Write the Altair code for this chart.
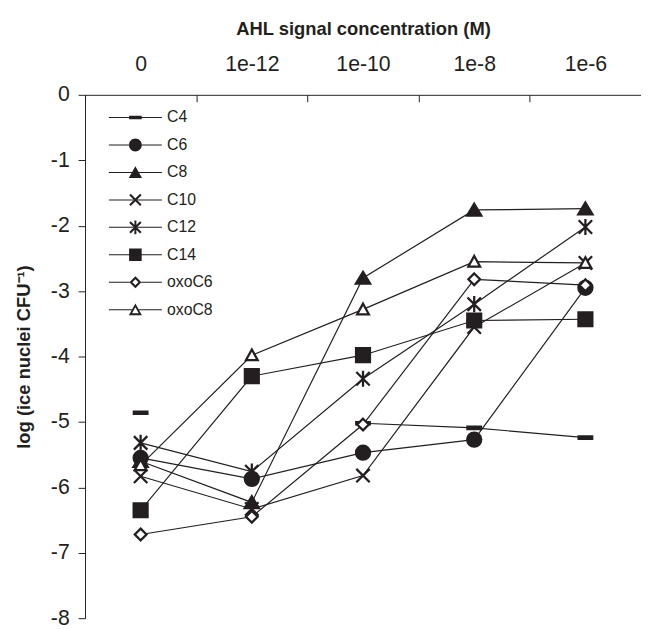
import altair as alt
import pandas as pd

# ---- data ----
concs = ["0", "1e-12", "1e-10", "1e-8", "1e-6"]
series = ["C4", "C6", "C8", "C10", "C12", "C14", "oxoC6", "oxoC8"]
C4 = [-4.86, None, -5.02, -5.09, -5.24]
C6 = [-5.55, -5.87, -5.47, -5.27, -2.95]
C8 = [-5.60, -6.23, -2.80, -1.76, -1.74]
C10 = [-5.83, -6.33, -5.82, -3.55, -2.57]
C12 = [-5.32, -5.76, -4.34, -3.20, -2.02]
C14 = [-6.35, -4.30, -3.98, -3.45, -3.43]
oxoC6 = [-6.72, -6.45, -5.04, -2.82, -2.91]
oxoC8 = [-5.66, -3.98, -3.28, -2.55, -2.57]
y_ticks = [-8, -7, -6, -5, -4, -3, -2, -1, 0]

values = [C4, C6, C8, C10, C12, C14, oxoC6, oxoC8]
rows = []
for s, vals in zip(series, values):
    for i, (c, v) in enumerate(zip(concs, vals)):
        rows.append({"series": s, "conc": c, "idx": i, "value": v})
df = pd.DataFrame(rows)

INK = "#231f20"
FONT = "Liberation Sans"

# chart marker paths (unit square -1..1), drawn with a 2.3px stroke
marker_paths = [
    "M-0.86,-0.15L0.86,-0.15L0.86,0.15L-0.86,0.15Z",                      # C4 dash
    "M-0.89,0A0.89,0.89,0,1,0,0.89,0A0.89,0.89,0,1,0,-0.89,0Z",           # C6 circle
    "M0,-0.78L0.9,0.72L-0.9,0.72Z",                                        # C8 triangle
    "M-0.85,-0.85L0.85,0.85M-0.85,0.85L0.85,-0.85",                        # C10 x
    "M-0.85,-0.85L0.85,0.85M-0.85,0.85L0.85,-0.85M0,-1.02L0,1.02",         # C12 asterisk
    "M-0.88,-0.88L0.88,-0.88L0.88,0.88L-0.88,0.88Z",                       # C14 square
    "M0,-0.74L0.74,0L0,0.74L-0.74,0Z",                                     # oxoC6 diamond
    "M0,-0.72L0.74,0.62L-0.74,0.62Z",                                      # oxoC8 triangle
]
marker_fills = [INK, INK, INK, INK, INK, INK, "white", "white"]


def seg(a):
    """thin filled line pieces on both sides of a legend marker (|x| >= a)"""
    t = 0.075
    return (f"M-4,-{t}L-{a},-{t}L-{a},{t}L-4,{t}Z"
            f"M{a},-{t}L4,-{t}L4,{t}L{a},{t}Z")


# legend symbols: line + solid marker (rings for the open markers)
xbars = ("M-0.93,-0.71L0.71,0.93L0.93,0.71L-0.71,-0.93Z"
         "M-0.71,0.93L0.93,-0.71L0.71,-0.93L-0.93,0.71Z")
legend_paths = [
    seg(0.9) + "M-0.95,-0.27L0.95,-0.27L0.95,0.27L-0.95,0.27Z",
    seg(0.95) + "M-0.97,0A0.97,0.97,0,1,0,0.97,0A0.97,0.97,0,1,0,-0.97,0Z",
    seg(0.52) + "M0,-0.95L1,0.85L-1,0.85Z",
    seg(0.22) + xbars,
    seg(0.22) + xbars + "M-0.15,-1.05L-0.15,1.05L0.15,1.05L0.15,-1.05Z",
    seg(0.93) + "M-0.95,-0.95L0.95,-0.95L0.95,0.95L-0.95,0.95Z",
    seg(0.88) + "M0,-0.9L0.9,0L0,0.9L-0.9,0Z"
    "M0,-0.46L-0.46,0L0,0.46L0.46,0Z",
    seg(0.5) + "M0,-0.95L0.98,0.82L-0.98,0.82Z"
    "M0,-0.36L-0.5,0.54L0.5,0.54Z",
]

W, H = 563, 530
step = W / len(concs)

y_enc = alt.Y(
    "value:Q",
    scale=alt.Scale(domain=[-8, 0], nice=False, zero=False),
    axis=alt.Axis(
        values=y_ticks, labelExpr="toString(datum.value)", grid=False,
        tickSize=7, labelPadding=9, labelFontSize=21.5, labelFont=FONT,
        labelColor=INK, domainColor=INK, tickColor=INK,
        title="log (ice nuclei CFU\u207b\u00b9)", titleFont=FONT,
        titleFontSize=18.6, titleFontWeight="bold", titleColor=INK,
        titlePadding=17,
    ),
)

lines = alt.Chart(df).mark_line(
    strokeWidth=1.2, color=INK, invalid="break-paths-show-domains"
).encode(
    x=alt.X(
        "conc:N", sort=concs,
        scale=alt.Scale(type="point", padding=0.5),
        axis=alt.Axis(
            orient="top", ticks=False, tickSize=0, labelAngle=0,
            labelPadding=20, labelFontSize=21.5, labelFont=FONT,
            labelColor=INK, domainColor=INK, grid=False,
            title="AHL signal concentration (M)", titleFont=FONT,
            titleFontSize=18.6, titleFontWeight="bold", titleColor=INK,
            titlePadding=15,
        ),
    ),
    y=y_enc,
    order=alt.Order("idx:Q"),
    detail="series:N",
)

points = alt.Chart(df).mark_point(
    filled=True, stroke=INK, strokeWidth=2.3, size=256, opacity=1
).encode(
    x=alt.X(
        "conc:N", sort=concs,
        scale=alt.Scale(type="point", padding=0.5),
        axis=alt.Axis(
            orient="bottom", offset=-H, labels=False, domain=False,
            ticks=True, tickSize=7, tickOffset=-step / 2, tickColor=INK,
            grid=False, title=None,
        ),
    ),
    y=y_enc,
    shape=alt.Shape("series:N", scale=alt.Scale(domain=series, range=marker_paths),
                    legend=None),
    fill=alt.Fill("series:N", scale=alt.Scale(domain=series, range=marker_fills),
                  legend=None),
)

legend_layer = alt.Chart(df).transform_filter("false").mark_point(
    filled=True, fill=INK, strokeWidth=0, size=180, opacity=1
).encode(
    shape=alt.Shape(
        "series:N", scale=alt.Scale(domain=series, range=legend_paths),
        legend=alt.Legend(
            orient="none", legendX=43, legendY=15, title=None, padding=0,
            symbolSize=180, symbolStrokeWidth=0,
            symbolFillColor=INK, symbolOpacity=1,
            labelFontSize=16, labelFont=FONT, labelColor=INK,
            labelOffset=24, rowPadding=11.8,
        ),
    ),
)

chart = alt.layer(lines, points, legend_layer).resolve_axis(
    x="independent"
).resolve_scale(shape="independent").properties(
    width=W, height=H,
    padding={"left": 78, "top": 84, "right": 0, "bottom": 6},
    autosize=alt.AutoSizeParams(type="none"),
).configure_view(stroke="transparent")

chart.save("out.html", embed_options={"renderer": "svg", "actions": False})
